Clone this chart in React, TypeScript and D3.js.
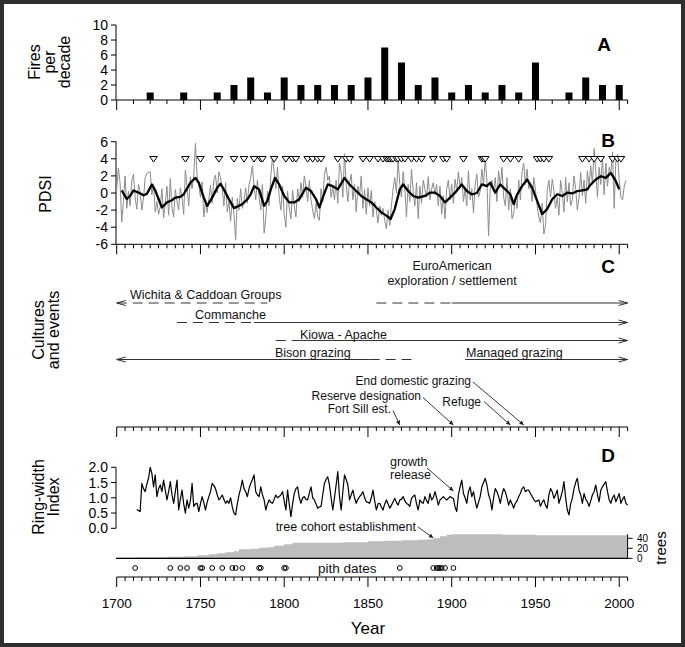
import React from 'react';
import * as d3 from 'd3';

// ---- data ----

// Panel A: fires per decade
const fireDecades = [1700, 1710, 1720, 1730, 1740, 1750, 1760, 1770, 1780, 1790, 1800, 1810, 1820, 1830, 1840, 1850, 1860, 1870, 1880, 1890, 1900, 1910, 1920, 1930, 1940, 1950, 1960, 1970, 1980, 1990, 2000];
const firesPerDecade = [0, 0, 1, 0, 1, 0, 1, 2, 3, 1, 3, 2, 2, 2, 2, 3, 7, 5, 2, 3, 1, 2, 1, 2, 1, 5, 0, 1, 3, 2, 2];
const aTicks = [0, 2, 4, 6, 8, 10];

// Panel B: fire years (triangles), annual PDSI from 1700, smoothed PDSI
const fireYears = [1722, 1741, 1750, 1761, 1770, 1776, 1782, 1786, 1787, 1794, 1801, 1805, 1807, 1814, 1817, 1820, 1822, 1832, 1837, 1839, 1847, 1851, 1856, 1859, 1861, 1862, 1863, 1864, 1865, 1867, 1868, 1870, 1872, 1876, 1879, 1882, 1889, 1895, 1897, 1907, 1918, 1919, 1920, 1931, 1935, 1940, 1951, 1953, 1955, 1958, 1978, 1982, 1985, 1989, 1996, 1999, 2001];
const pdsiStart = 1700;
const pdsiAnnual = [
  0.5, 2.9, 1.2, -3.4, -1.0, 2.0, -1.8, 0.2, -1.5, 1.4,
  2.2, -0.5, -1.9, 1.0, 0.2, -2.0, -0.6, 1.8, 2.3, 2.4,
  2.5, -0.2, 1.0, -2.2, -1.0, -2.5, -1.6, 0.5, -2.9, -1.2,
  0.8, -2.6, 1.7, -1.8, -2.8, 0.4, -1.0, -2.0, 0.6, -0.5,
  -2.5, 2.7, 0.8, -1.5, 1.9, 0.5, 2.1, 5.8, 2.0, 0.9,
  -0.5, 1.3, -2.8, -1.0, -2.3, -0.8, 0.9, -1.2, 1.5, 2.1,
  0.0, 2.5, 1.8, 0.6, -1.5, 1.2, -2.2, -1.0, -3.3, -0.5,
  -2.5, -5.5, -0.6, -2.0, 0.5, -1.8, -0.9, 0.6, -1.2, 1.0,
  1.8, 3.2, 0.8, -0.8, 1.5, -0.5, -2.0, 1.0, -4.7, -3.0,
  0.2, -1.5, 2.0, 4.2, 2.5, 0.5, 3.0, -0.5, -2.0, 0.8,
  -2.5, -4.0, 0.2, -1.8, -3.0, 0.3, -1.5, -2.8, 0.5, -1.0,
  1.2, -0.5, 2.0, 0.8, -1.0, 1.5, -0.8, -2.0, -3.0, -1.2,
  -2.8, -3.2, 0.5, -1.0, 2.2, 3.0, 1.5, 2.0, -0.5, 0.7,
  -0.8, 1.5, -1.2, 3.5, 2.5, -0.5, 4.6, 1.0, -1.0, 1.2,
  2.2, -0.8, 1.0, -2.2, 0.8, -0.3, 2.0, -1.8, 0.4, -2.5,
  0.6, -1.5, 0.3, -2.8, -1.0, -2.0, -3.5, -1.5, -2.6, -1.8,
  -3.2, -4.2, -2.0, -3.8, -1.5, 0.5, 1.8, 0.0, 3.8, 1.0,
  -0.5, 2.5, 0.5, -2.8, 1.0, -1.0, 2.8, 0.2, -1.5, 1.2,
  -3.0, 0.8, -1.2, 1.5, 0.4, -0.5, 1.9, -0.8, 0.5, 1.2,
  -0.2, 1.0, -1.5, 0.8, -2.5, -0.3, -3.0, 0.5, 1.5, -0.8,
  1.0, -1.2, 1.6, 0.2, 2.5, 0.6, 1.8, -1.0, 0.5, -1.5,
  2.6, -0.8, 0.5, -2.3, 1.0, 2.2, -0.5, 0.2, 2.8, 1.0,
  4.0, 1.5, -5.0, 0.5, 1.5, 0.2, 1.8, -1.0, 2.6, 0.8,
  3.0, -0.5, -1.5, 1.8, -2.0, 0.5, -3.0, -2.4, -0.5, -1.8,
  1.5, -0.8, 2.5, 3.5, 1.0, 2.8, 0.5, 1.2, -1.0, 1.8,
  0.4, -1.5, -2.8, -3.5, -1.2, -4.8, -3.8, 0.2, 1.5, -0.5,
  1.6, 0.3, -1.8, -0.5, -2.6, 1.5, 0.0, -2.2, 1.8, -1.0,
  1.2, -1.5, -0.8, 2.0, 0.5, -2.0, -0.5, 2.4, -0.3, 1.5,
  -1.2, 2.6, 0.8, 3.2, 1.0, 5.2, 2.5, -0.5, 3.0, 1.0,
  4.2, -0.2, 3.5, 0.8, 3.0, 2.4, 4.8, -1.8, 3.8, 4.5,
  1.5, -0.5, -0.8, 0.8, 1.5,
];
const pdsiSmooth: [number, number][] = [
  [1703, 0.3], [1706, -0.7], [1708, -0.35], [1710, 0.3], [1713, 0.05], [1716, -0.27], [1718, -0.1],
  [1721, 1.0], [1723, 0.3], [1725, -0.7], [1727, -1.7], [1730, -1.1], [1733, -0.85], [1735, -0.54],
  [1738, -0.46], [1740, -0.15], [1744, 1.2], [1747, 1.77], [1749, 1.2], [1752, -0.54], [1754, -1.5],
  [1757, -0.54], [1760, 0.6], [1762, 1.08], [1765, 0.04], [1767, -0.73], [1770, -1.77], [1773, -1.5],
  [1775, -1.3], [1778, -0.73], [1780, -0.15], [1782, 0.8], [1785, 0.42], [1788, -1.5], [1790, -0.9],
  [1792, 0.42], [1794.5, 1.77], [1797, 1.0], [1800, -0.35], [1803, -1.1], [1806, -1.1], [1809, -0.73],
  [1813, 0.62], [1816, 0.23], [1819, -0.73], [1821, -1.7], [1823, -0.54], [1826, 1.0], [1829, 0.8],
  [1832, 0.42], [1836, 1.77], [1839, 1.0], [1843, 0.23], [1846, -0.35], [1849, -0.73], [1852, -1.1],
  [1855, -1.7], [1858, -2.27], [1861, -2.65], [1863.5, -3.04], [1866, -1.88], [1869, 0.42], [1871, 1.0],
  [1874, 0.23], [1877, -0.35], [1880, -0.54], [1884, -0.35], [1887, 0.04], [1890, 0.04], [1893, -0.35],
  [1896, -1.1], [1899, -0.54], [1902, 0.04], [1906, 1.0], [1909, 0.23], [1912, -0.15], [1915, 0.0],
  [1918, 1.0], [1921, 0.8], [1923, 1.2], [1926, 0.04], [1929, 1.0], [1932, 0.42], [1935, -0.15],
  [1937, -1.3], [1939, -0.2], [1942, 0.8], [1945, 1.58], [1948, 0.62], [1951, -0.92], [1954, -2.46],
  [1957, -1.88], [1960, -0.73], [1963, -0.15], [1966, -0.35], [1969, 0.04], [1972, -0.05], [1975, 0.23],
  [1978, 0.3], [1981, 0.42], [1983, 1.0], [1986, 1.58], [1989, 1.96], [1992, 1.77], [1995, 2.35],
  [1998, 1.38], [2000, 0.42],
];
const bTicks = [-6, -4, -2, 0, 2, 4, 6];

// Panel C: cultures (years of dashed / solid spans) and events
const cultures = [
  { label: 'Wichita & Caddoan Groups', dashed: [1700, 1790], solid: null, arrowLeft: true, arrowRight: false },
  { label: 'EuroAmerican|exploration / settlement', dashed: [1855, 1900], solid: [1900, 2005], arrowLeft: false, arrowRight: true },
  { label: 'Commanche', dashed: [1736, 1782], solid: [1782, 2005], arrowLeft: false, arrowRight: true },
  { label: 'Kiowa - Apache', dashed: [1795, 1809], solid: [1809, 2005], arrowLeft: false, arrowRight: true },
  { label: 'Bison grazing', dashed: [1851, 1876], solid: [1700, 1851], arrowLeft: true, arrowRight: false },
  { label: 'Managed grazing', dashed: null, solid: [1908, 2005], arrowLeft: false, arrowRight: true },
];
const events = [
  { label: 'Fort Sill est.', year: 1869 },
  { label: 'Reserve designation', year: 1901 },
  { label: 'Refuge', year: 1935 },
  { label: 'End domestic grazing', year: 1943 },
];

// Panel D: ring-width index from 1712, tree counts, pith dates
const ringStart = 1712;
const ringWidth = [
  0.62, 0.58, 0.55, 1.47, 1.30, 1.20, 1.45, 1.64,
  2.00, 1.80, 1.36, 1.75, 1.04, 1.30, 1.42, 1.20, 1.58, 1.25,
  0.93, 1.20, 1.53, 1.10, 0.82, 1.20, 1.58, 0.60, 0.95, 1.25,
  0.80, 0.50, 0.93, 0.66, 0.90, 1.47, 0.72, 0.80, 0.82, 0.55,
  0.80, 1.04, 0.85, 0.60, 0.85, 1.04, 1.20, 1.47, 1.40, 1.30,
  1.10, 0.93, 1.00, 1.09, 0.95, 0.82, 0.90, 0.82, 1.00, 0.70,
  0.50, 0.44, 0.80, 1.09, 1.30, 1.58, 1.30, 1.20, 1.04, 1.30,
  1.47, 1.60, 1.75, 1.20, 1.10, 1.04, 1.36, 1.10, 0.93, 0.60,
  0.80, 0.93, 0.85, 0.82, 0.95, 1.09, 1.00, 1.04, 1.10, 1.20,
  0.90, 0.60, 1.25, 0.80, 0.38, 0.80, 1.14, 1.30, 1.36, 1.00,
  0.82, 1.00, 1.04, 0.95, 0.93, 1.15, 1.36, 1.00, 0.93, 0.80,
  0.66, 0.70, 0.72, 1.10, 1.47, 1.60, 1.69, 1.42, 1.00, 0.60,
  1.00, 1.42, 1.86, 1.04, 0.60, 1.20, 1.75, 1.60, 1.42, 0.93,
  1.10, 1.25, 1.00, 0.82, 0.95, 1.04, 1.10, 1.20, 1.00, 0.87,
  0.85, 0.82, 1.00, 1.25, 0.90, 0.60, 0.80, 0.82, 0.70, 0.60,
  0.80, 0.93, 0.80, 0.66, 0.75, 0.87, 0.98, 0.85, 0.76, 0.93,
  0.95, 1.04, 0.90, 0.82, 0.78, 0.72, 0.98, 1.05, 1.09, 0.80,
  0.60, 0.93, 0.85, 0.82, 1.04, 0.90, 0.82, 1.14, 0.93, 1.00,
  1.20, 1.00, 0.76, 0.93, 0.98, 1.04, 0.98, 0.93, 0.98, 1.04,
  1.00, 0.98, 0.70, 0.55, 1.10, 1.36, 1.58, 1.14, 1.00, 0.82,
  1.20, 1.36, 1.04, 1.20, 0.90, 0.66, 0.85, 1.04, 1.36, 1.50,
  1.64, 1.42, 1.10, 0.93, 0.60, 1.00, 1.30, 1.20, 1.04, 0.82,
  1.10, 1.30, 1.20, 1.00, 0.76, 0.93, 0.80, 0.66, 0.82, 0.90,
  1.04, 1.15, 1.30, 1.36, 1.20, 1.25, 1.25, 1.14, 1.04, 0.95,
  0.87, 0.90, 0.93, 0.72, 0.85, 0.93, 0.75, 0.66, 1.09, 1.30,
  1.20, 0.98, 1.10, 1.25, 0.82, 1.00, 1.20, 1.53, 1.00, 0.60,
  0.44, 0.80, 0.98, 1.30, 1.50, 1.64, 1.25, 1.10, 0.82, 1.14,
  0.95, 0.87, 0.72, 0.90, 1.10, 1.20, 1.42, 1.10, 0.87, 1.25,
  1.36, 1.45, 1.53, 1.20, 0.93, 0.82, 1.00, 1.09, 0.87, 1.00,
  1.14, 0.82, 0.95, 1.04, 0.82, 0.76,
];
const dTicks = [0, 0.5, 1.0, 1.5, 2.0];
const treeYears = [1700, 1712, 1730, 1740, 1748, 1755, 1760, 1765, 1770, 1773, 1780, 1785, 1790, 1794, 1800, 1805, 1820, 1835, 1850, 1860, 1870, 1880, 1886, 1889, 1893, 1897, 1900, 1930, 1950, 2005];
const treeCounts = [1, 2, 3, 4, 6, 8, 10, 12, 14, 18, 19, 21, 22, 25, 28, 31, 31, 32, 34, 35, 36, 37, 38, 40, 44, 47, 48, 47, 46, 46];
const treeTicks = [0, 20, 40];
const pithDates = [1711, 1732, 1738, 1742, 1750, 1751, 1757, 1763, 1769, 1771, 1775, 1785, 1786, 1800, 1801, 1869, 1889, 1891, 1892, 1893, 1894, 1896, 1901];

const yearLabels = [1700, 1750, 1800, 1850, 1900, 1950, 2000];

// ---- drawing ----
const FONT = "'Liberation Sans', Arial, Helvetica, sans-serif";

const x = d3.scaleLinear().domain([1700, 2005]).range([116.7, 627.6]);
const yA = d3.scaleLinear().domain([0, 10]).range([100, 25]);
const yB = d3.scaleLinear().domain([-6, 6]).range([244.3, 141.7]);
const yD = d3.scaleLinear().domain([0, 2]).range([528.3, 467.3]);
const yT = d3.scaleLinear().domain([0, 40]).range([558.3, 538.3]);

function XAxis({ y, step, label }: { y: number; step: number; label?: boolean }) {
  const ticks = d3.range(1700, 2006, step);
  if (ticks[ticks.length - 1] !== 2005) ticks.push(2005);
  return (
    <g>
      <line x1={x(1700)} x2={x(2005)} y1={y} y2={y} stroke="#000" strokeWidth={1} />
      {ticks.map((t) => (
        <line key={t} x1={x(t)} x2={x(t)} y1={y} y2={y + (t % 50 === 0 ? 10 : 4)} stroke="#000" strokeWidth={1} />
      ))}
      {label &&
        yearLabels.map((t) => (
          <text key={t} x={x(t)} y={y + 31} textAnchor="middle" fontSize={13.5}>
            {t}
          </text>
        ))}
    </g>
  );
}

function YAxis({ scale, ticks, fmt }: { scale: d3.ScaleLinear<number, number>; ticks: number[]; fmt: (v: number) => string }) {
  const [a, b] = scale.range();
  const x0 = 116;
  return (
    <g>
      <line x1={x0} x2={x0} y1={a} y2={b} stroke="#000" />
      {ticks.map((t) => (
        <g key={t}>
          <line x1={x0 - 5} x2={x0} y1={scale(t)} y2={scale(t)} stroke="#000" />
          <text x={x0 - 8} y={scale(t) + 5} textAnchor="end" fontSize={14}>
            {fmt(t)}
          </text>
        </g>
      ))}
    </g>
  );
}

function RotLabel({ x0, y0, lines, size = 16 }: { x0: number; y0: number; lines: string[]; size?: number }) {
  return (
    <g>
      {lines.map((l, i) => (
        <text key={i} transform={`translate(${x0 + i * 15},${y0}) rotate(-90)`} textAnchor="middle" fontSize={size}>
          {l}
        </text>
      ))}
    </g>
  );
}

function chevron(xt: number, y: number, dir: number) {
  return `M${xt - dir * 9},${y - 2.5}L${xt},${y}L${xt - dir * 9},${y + 2.5}`;
}

export default function App() {
  const pdsiPath = d3
    .line<number>()
    .x((_, i) => x(pdsiStart + i))
    .y((d) => yB(d))(pdsiAnnual);
  const smoothPath = d3
    .line<[number, number]>()
    .x((d) => x(d[0]))
    .y((d) => yB(d[1]))(pdsiSmooth);
  const ringPath = d3
    .line<number>()
    .x((_, i) => x(ringStart + i))
    .y((d) => yD(d))(ringWidth);
  const treeArea = d3
    .area<number>()
    .x((_, i) => x(treeYears[i]))
    .y0(yT(0))
    .y1((d) => yT(d))
    .curve(d3.curveStepAfter)(treeCounts);

  const cultureLineY = [303, 303, 322.5, 340.5, 359.5, 359.5];
  const cultureTextPos: [number, number, string][] = [
    [130, 298.5, 'start'],
    [452, 285, 'middle'],
    [195, 318.5, 'start'],
    [300, 338.5, 'start'],
    [275, 357, 'start'],
    [466, 357, 'start'],
  ];
  const eventText: [number, number][] = [
    [391, 413],
    [421, 400],
    [481, 405.5],
    [471, 384.5],
  ];
  const eventFrom: [number, number][] = [
    [393, 410.5],
    [423, 397.5],
    [484, 401.5],
    [473, 382],
  ];

  return (
    <svg
      width={685}
      height={647}
      style={{ position: 'absolute', left: 0, top: 0, background: '#fff' }}
      fontFamily={FONT}
    >
      <defs>
        <marker id="ah" viewBox="0 0 10 10" refX={10} refY={5} markerWidth={5} markerHeight={5} orient="auto">
          <path d="M0,0L10,5L0,10z" fill="#222" />
        </marker>
      </defs>
      <rect x={0} y={0} width={685} height={647} fill="#fff" />

      {/* Panel A */}
      <RotLabel x0={40} y0={62} lines={['Fires', 'per', 'decade']} />
      <YAxis scale={yA} ticks={aTicks} fmt={(v) => String(v)} />
      {fireDecades.map((d, i) =>
        firesPerDecade[i] > 0 ? (
          <rect key={d} x={x(d) - 3.5} y={yA(firesPerDecade[i])} width={7} height={yA(0) - yA(firesPerDecade[i])} fill="#000" />
        ) : null
      )}
      <XAxis y={yA(0)} step={10} />
      <text x={604} y={51} textAnchor="middle" fontSize={19} fontWeight="bold">A</text>

      {/* Panel B */}
      <RotLabel x0={51} y0={194} lines={['PDSI']} />
      <YAxis scale={yB} ticks={bTicks} fmt={(v) => String(v)} />
      <path d={pdsiPath ?? ''} fill="none" stroke="#8c8c8c" strokeWidth={1} />
      <path d={smoothPath ?? ''} fill="none" stroke="#000" strokeWidth={2.3} strokeLinejoin="round" />
      {fireYears.map((f, i) => (
        <path
          key={i}
          d={`M${x(f) - 3.8},${yB(4) - 2.3}L${x(f) + 3.8},${yB(4) - 2.3}L${x(f)},${yB(4) + 3.3}Z`}
          fill="#fff"
          stroke="#000"
          strokeWidth={1}
        />
      ))}
      <XAxis y={yB(-6)} step={5} />
      <text x={608} y={147} textAnchor="middle" fontSize={19} fontWeight="bold">B</text>

      {/* Panel C */}
      <RotLabel x0={44} y0={330} lines={['Cultures', 'and events']} />
      <text x={608} y={273} textAnchor="middle" fontSize={19} fontWeight="bold">C</text>
      {cultures.map((c, i) => {
        const y = cultureLineY[i];
        const [tx, ty, anchor] = cultureTextPos[i];
        const parts = c.label.split('|');
        return (
          <g key={i} stroke="#333" strokeWidth={1} fill="none">
            {c.dashed && (
              <line x1={x(c.dashed[0])} x2={x(c.dashed[1])} y1={y} y2={y} strokeDasharray="10,6" />
            )}
            {c.solid && <line x1={x(c.solid[0])} x2={x(c.solid[1])} y1={y} y2={y} />}
            {c.arrowLeft && <path d={chevron(x(1700), y, -1)} />}
            {c.arrowRight && <path d={chevron(x(2005), y, 1)} />}
            {parts.map((p, k) => (
              <text key={k} x={tx} y={ty + (k - (parts.length - 1)) * 15} textAnchor={anchor as any} fontSize={12.5} fill="#111" stroke="none">
                {p}
              </text>
            ))}
          </g>
        );
      })}
      {events.map((e, i) => (
        <g key={e.label}>
          <text x={eventText[i][0]} y={eventText[i][1]} textAnchor="end" fontSize={12} fill="#111">
            {e.label}
          </text>
          <line x1={eventFrom[i][0]} y1={eventFrom[i][1]} x2={x(e.year)} y2={425} stroke="#222" strokeWidth={0.9} markerEnd="url(#ah)" />
        </g>
      ))}
      <XAxis y={427} step={5} />

      {/* Panel D */}
      <RotLabel x0={44} y0={497} lines={['Ring-width', 'Index']} />
      <YAxis scale={yD} ticks={dTicks} fmt={(v) => v.toFixed(1)} />
      <path d={ringPath ?? ''} fill="none" stroke="#000" strokeWidth={1.2} strokeLinejoin="round" />
      <text x={608} y={462} textAnchor="middle" fontSize={19} fontWeight="bold">D</text>
      <text x={390} y={466} fontSize={12.5} fill="#111">growth</text>
      <text x={390} y={479} fontSize={12.5} fill="#111">release</text>
      <line x1={427} y1={468} x2={x(1901)} y2={491} stroke="#222" strokeWidth={0.9} markerEnd="url(#ah)" />
      <text x={416} y={531} textAnchor="end" fontSize={12.5} fill="#111">tree cohort establishment</text>
      <line x1={418} y1={527} x2={x(1889)} y2={538} stroke="#222" strokeWidth={0.9} markerEnd="url(#ah)" />

      <path d={treeArea ?? ''} fill="#bdbdbd" />
      <line x1={116} x2={x(2005)} y1={yT(0)} y2={yT(0)} stroke="#000" strokeWidth={1.2} />
      <line x1={x(2005)} x2={x(2005)} y1={yT(48)} y2={yT(0)} stroke="#000" />
      {treeTicks.map((t) => (
        <g key={t}>
          <line x1={x(2005)} x2={x(2005) + 5} y1={yT(t)} y2={yT(t)} stroke="#000" />
          <text x={637} y={yT(t) + 3.5} fontSize={10}>{t}</text>
        </g>
      ))}
      <text transform={`translate(666,548) rotate(-90)`} textAnchor="middle" fontSize={15}>trees</text>

      {pithDates.map((p, i) => (
        <circle key={i} cx={x(p)} cy={568} r={2.4} fill="none" stroke="#000" strokeWidth={1} />
      ))}
      <text x={318} y={572.5} fontSize={13.5} fill="#111">pith dates</text>

      <XAxis y={577} step={5} label />
      <text x={x(1850)} y={634} textAnchor="middle" fontSize={17}>Year</text>

      <rect x={2} y={2} width={681} height={643} fill="none" stroke="#2e2e2e" strokeWidth={4} />
    </svg>
  );
}
